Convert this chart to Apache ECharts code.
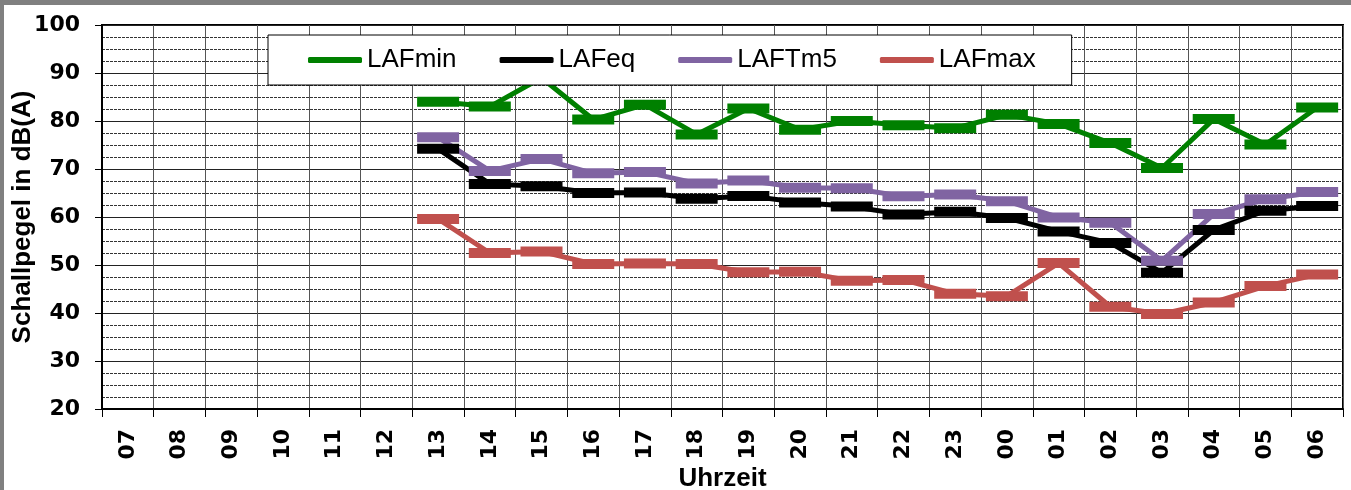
<!DOCTYPE html>
<html>
<head>
<meta charset="utf-8">
<script src="https://cdn.jsdelivr.net/npm/echarts@6/dist/echarts.min.js"></script>
<style>
html,body{margin:0;padding:0;background:#fff;}
#wrap{width:1351px;height:490px;box-sizing:border-box;border-top:5px solid #808080;border-left:4px solid #808080;background:#fff;}
#chart{width:1347px;height:485px;}
</style>
</head>
<body>
<div id="wrap"><div id="chart"></div></div>
<script>
var hours = ['07','08','09','10','11','12','13','14','15','16','17','18','19','20','21','22','23','00','01','02','03','04','05','06'];
var yTicks = [20, 30, 40, 50, 60, 70, 80, 90, 100];
var LAFmin = [null,null,null,null,null,null,84.0,83.0,89.0,80.3,83.4,77.2,82.6,78.2,80.0,79.1,78.5,81.3,79.4,75.4,70.2,80.4,75.1,82.8];
var LAFeq  = [null,null,null,null,null,null,74.2,66.9,66.4,65.0,65.1,63.8,64.4,63.0,62.2,60.5,61.1,59.8,57.0,54.6,48.4,57.3,61.3,62.3];
var LAFTm5 = [null,null,null,null,null,null,76.6,69.6,72.1,69.1,69.4,67.0,67.6,66.1,66.0,64.3,64.7,63.3,59.9,58.8,50.9,60.6,63.7,65.2];
var LAFmax = [null,null,null,null,null,null,59.6,52.5,52.8,50.2,50.3,50.2,48.5,48.6,46.7,46.9,44.0,43.5,50.4,41.3,39.8,42.2,45.6,48.0];

var names = ['LAFmin','LAFeq','LAFTm5','LAFmax'];
var colors = ['#008000','#000000','#8064A2','#C0504D'];
var values = [LAFmin, LAFeq, LAFTm5, LAFmax];

var chart = echarts.init(document.getElementById('chart'), null, {renderer:'canvas'});
var series = names.map(function(n, i){
  return {
    name: n,
    type: 'line',
    data: values[i],
    connectNulls: false,
    symbol: 'rect',
    symbolSize: [42, 10],
    showAllSymbol: true,
    itemStyle: {color: colors[i]},
    lineStyle: {color: colors[i], width: 5},
    animation: false
  };
});

chart.setOption({
  animation: false,
  backgroundColor: '#fff',
  grid: {left: 98, right: 8, top: 20, bottom: 81, show: true, borderColor: '#000', borderWidth: 2, containLabel: false, outerBoundsMode: 'none'},
  legend: {
    data: names,
    left: 264, top: 30,
    padding: [12, 36, 12, 40],
    itemGap: 43,
    itemWidth: 54, itemHeight: 6,
    icon: 'roundRect',
    backgroundColor: '#fff',
    borderColor: '#000', borderWidth: 1, borderRadius: 0,
    textStyle: {fontFamily: 'Liberation Sans', fontSize: 26, color: '#000'}
  },
  xAxis: {
    type: 'category',
    data: hours,
    boundaryGap: true,
    name: 'Uhrzeit',
    nameLocation: 'middle',
    nameGap: 57,
    nameMoveOverlap: false,
    nameTextStyle: {fontFamily: 'Liberation Sans', fontWeight: 'bold', fontSize: 26, color: '#000'},
    axisLine: {show: true, lineStyle: {color: '#000', width: 2}},
    axisTick: {show: true, length: 8, interval: 0, lineStyle: {color: '#000', width: 1}},
    axisLabel: {interval: 0, rotate: 90, margin: 20, fontFamily: 'DejaVu Sans', fontWeight: 'bold', fontSize: 22, color: '#000'},
    splitLine: {show: true, interval: 0, lineStyle: {color: '#555', width: 1}}
  },
  yAxis: {
    type: 'value',
    min: yTicks[0], max: yTicks[yTicks.length-1], interval: 10,
    name: 'Schallpegel in dB(A)',
    nameLocation: 'middle',
    nameGap: 66,
    nameMoveOverlap: false,
    nameTextStyle: {fontFamily: 'Liberation Sans', fontWeight: 'bold', fontSize: 26, color: '#000'},
    axisLine: {show: true, lineStyle: {color: '#000', width: 2}},
    axisTick: {show: true, length: 7, lineStyle: {color: '#000', width: 1}},
    axisLabel: {margin: 22, fontFamily: 'DejaVu Sans', fontWeight: 'bold', fontSize: 22, color: '#000'},
    splitLine: {show: true, lineStyle: {color: '#222', width: 1}},
    minorTick: {show: false, splitNumber: 4},
    minorSplitLine: {show: true, lineStyle: {color: '#333', width: 1, type: [3, 1]}}
  },
  series: series
});
</script>
</body>
</html>
